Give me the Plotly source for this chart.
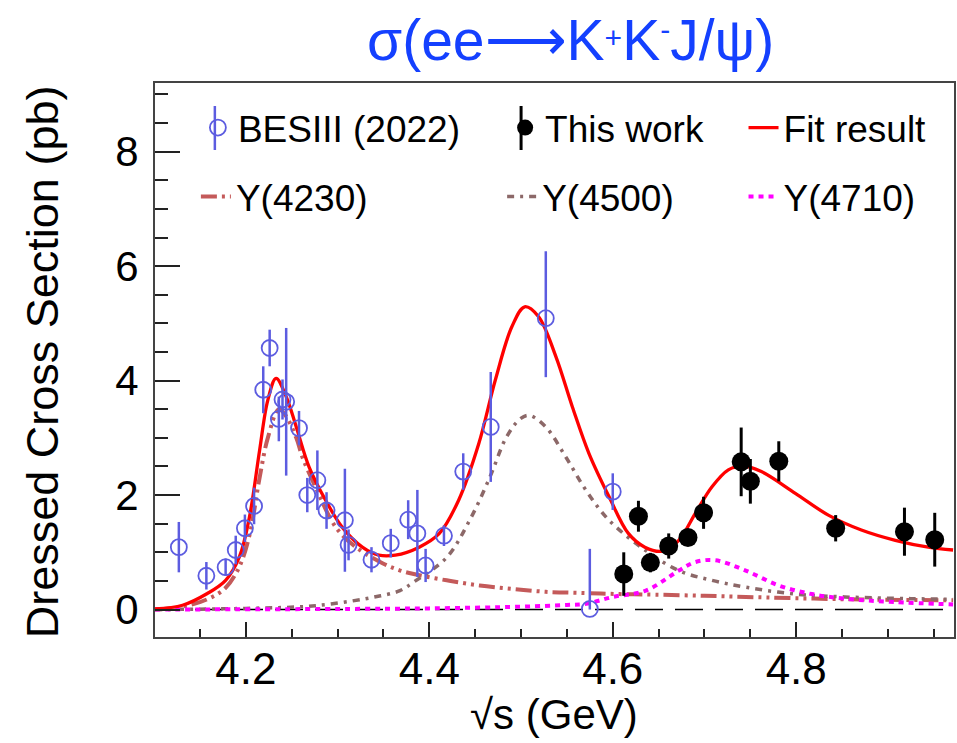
import plotly.graph_objects as go

# ---- BESIII (2022) measurements ----
besiii_E = [4.127, 4.157, 4.178, 4.189, 4.199, 4.209, 4.219, 4.226, 4.236, 4.240,
            4.244, 4.258, 4.267, 4.278, 4.288, 4.308, 4.312, 4.337, 4.358, 4.377,
            4.387, 4.396, 4.416, 4.437, 4.467, 4.527, 4.575, 4.600]
besiii_xs = [1.09, 0.59, 0.74, 1.04, 1.42, 1.81, 3.84, 4.57, 3.33, 3.67,
             3.63, 3.17, 2.00, 2.26, 1.73, 1.56, 1.13, 0.87, 1.16, 1.57,
             1.33, 0.77, 1.29, 2.41, 3.19, 5.09, 0.01, 2.06]
besiii_err_up = [0.44, 0.24, 0.15, 0.25, 0.24, 0.32, 0.41, 0.32, 0.39, 0.35,
                 1.29, 0.30, 0.30, 0.52, 0.32, 0.90, 0.27, 0.22, 0.25, 0.34,
                 0.76, 0.29, 0.18, 0.32, 0.96, 1.17, 1.05, 0.32]
besiii_err_dn = [0.44, 0.24, 0.15, 0.25, 0.24, 0.32, 0.41, 0.32, 0.39, 0.35,
                 1.29, 0.30, 0.30, 0.52, 0.32, 0.90, 0.27, 0.22, 0.25, 0.34,
                 0.76, 0.29, 0.18, 0.32, 0.96, 1.03, 0.01, 0.32]

# ---- This work ----
work_E = [4.612, 4.628, 4.641, 4.661, 4.682, 4.699, 4.740, 4.750, 4.781, 4.843, 4.918, 4.951]
work_xs = [0.62, 1.63, 0.82, 1.11, 1.26, 1.69, 2.58, 2.24, 2.59, 1.42, 1.36, 1.22]
work_err = [0.38, 0.27, 0.17, 0.22, 0.10, 0.28, 0.60, 0.39, 0.35, 0.23, 0.42, 0.47]

# ---- Fit result and its components ----
fit_E = [4.101, 4.131, 4.158, 4.178, 4.193, 4.204, 4.215, 4.224, 4.233, 4.244,
         4.255, 4.269, 4.287, 4.305, 4.327, 4.345, 4.363, 4.389, 4.411, 4.432,
         4.454, 4.472, 4.490, 4.504, 4.519, 4.538, 4.556, 4.574, 4.596, 4.617,
         4.635, 4.654, 4.672, 4.690, 4.708, 4.726, 4.742, 4.762, 4.799, 4.835,
         4.871, 4.908, 4.944, 4.971]
fit_xs = [0.01, 0.075, 0.28, 0.51, 0.92, 1.62, 2.78, 3.66, 4.04, 3.72,
          3.19, 2.49, 1.91, 1.44, 1.09, 0.95, 0.95, 1.09, 1.33, 1.91,
          2.90, 4.01, 4.94, 5.29, 5.12, 4.42, 3.54, 2.73, 1.97, 1.33,
          1.09, 1.02, 1.21, 1.68, 2.14, 2.44, 2.51, 2.41, 2.03, 1.65,
          1.39, 1.21, 1.09, 1.04]

y4230_E = [4.101, 4.131, 4.158, 4.178, 4.193, 4.204, 4.215, 4.224, 4.236, 4.243,
           4.255, 4.262, 4.276, 4.298, 4.320, 4.349, 4.367, 4.383, 4.419, 4.455,
           4.491, 4.527, 4.564, 4.607, 4.646, 4.700, 4.745, 4.853, 4.971]
y4230_xs = [0.0, 0.05, 0.18, 0.38, 0.75, 1.30, 2.30, 3.00, 3.50, 3.40,
            3.00, 2.65, 2.14, 1.44, 1.09, 0.81, 0.69, 0.62, 0.51, 0.42,
            0.36, 0.31, 0.29, 0.27, 0.26, 0.24, 0.22, 0.18, 0.16]

y4500_E = [4.101, 4.200, 4.278, 4.347, 4.368, 4.383, 4.419, 4.444, 4.466, 4.484,
           4.499, 4.509, 4.527, 4.549, 4.571, 4.596, 4.636, 4.672, 4.708, 4.745,
           4.799, 4.853, 4.925, 4.971]
y4500_xs = [0.0, 0.02, 0.07, 0.24, 0.33, 0.48, 0.91, 1.56, 2.31, 3.01,
            3.33, 3.39, 3.19, 2.66, 2.08, 1.56, 1.03, 0.68, 0.51, 0.39,
            0.27, 0.22, 0.19, 0.18]

y4710_E = [4.101, 4.300, 4.400, 4.500, 4.550, 4.571, 4.600, 4.636, 4.672, 4.690,
           4.712, 4.745, 4.781, 4.817, 4.853, 4.907, 4.971]
y4710_xs = [0.0, 0.01, 0.02, 0.05, 0.08, 0.10, 0.22, 0.33, 0.68, 0.83,
            0.86, 0.68, 0.42, 0.27, 0.19, 0.13, 0.09]

x_ticks = [4.2, 4.4, 4.6, 4.8]
y_ticks = [0, 2, 4, 6, 8]

FONT = "Liberation Sans, Arial, Helvetica, sans-serif"
BLUE = "#5c5ce0"
LEG_FONT = dict(family=FONT, size=37, color="black")

fig = go.Figure()

fig.add_trace(go.Scatter(
    x=y4230_E, y=y4230_xs, mode="lines", name="Y(4230)", line_shape="spline",
    line=dict(color="#c45a5a", width=4, dash="16px,5px,3px,5px,3px,5px"),
    legend="legend4"))
fig.add_trace(go.Scatter(
    x=y4500_E, y=y4500_xs, mode="lines", name="Y(4500)", line_shape="spline",
    line=dict(color="#8c6868", width=3.5, dash="7px,6px,3px,6px"),
    legend="legend5"))
fig.add_trace(go.Scatter(
    x=y4710_E, y=y4710_xs, mode="lines", name="Y(4710)", line_shape="spline",
    line=dict(color="#ff00ff", width=4, dash="5px,5px"),
    legend="legend6"))
fig.add_trace(go.Scatter(
    x=fit_E, y=fit_xs, mode="lines", name="Fit result", line_shape="spline",
    line=dict(color="#ff0000", width=3.3),
    legend="legend3"))

fig.add_trace(go.Scatter(
    x=besiii_E, y=besiii_xs, mode="markers", name="BESIII (2022)",
    marker=dict(symbol="circle-open", size=16, color=BLUE, line=dict(width=1.8, color=BLUE)),
    error_y=dict(type="data", symmetric=False, array=besiii_err_up, arrayminus=besiii_err_dn,
                 color=BLUE, thickness=2.5, width=0),
    legend="legend"))
fig.add_trace(go.Scatter(
    x=work_E, y=work_xs, mode="markers", name="This work",
    marker=dict(symbol="circle", size=19, color="black"),
    error_y=dict(type="data", array=work_err, color="black", thickness=3, width=0),
    legend="legend2"))

L, R, T, B = 155, 1, 83, 106
W, H = 957, 743
pw, ph = W - L - R, H - T - B


def px_x(px):
    return (px - L) / pw


def px_y(py):
    return (H - B - py) / ph


def legend_at(xpx, ypx):
    return dict(x=px_x(xpx), y=px_y(ypx), xanchor="left", yanchor="middle",
                bgcolor="rgba(0,0,0,0)", font=LEG_FONT, borderwidth=0,
                orientation="h", itemwidth=30)


# dashed zero reference line
fig.add_shape(type="line", xref="paper", x0=0, x1=1, yref="y", y0=0, y1=0,
              line=dict(color="black", width=1.5, dash="28px,12px"), layer="below")

# vertical error-bar strokes through the legend markers
for xm, col, lw in [(215, BLUE, 2.5), (522, "black", 3)]:
    fig.add_shape(type="line", xref="paper", yref="paper",
                  x0=px_x(xm), x1=px_x(xm), y0=px_y(106), y1=px_y(150),
                  line=dict(color=col, width=lw))

title_txt = ("σ(ee⟶K<span style=\"font-size:30px;baseline-shift:12px\">+</span>"
             "K<span style=\"font-size:30px;baseline-shift:20px\">-</span>J/ψ)")

fig.update_layout(
    width=W, height=H,
    margin=dict(l=L, r=R, t=T, b=B),
    paper_bgcolor="white", plot_bgcolor="white",
    font=dict(family=FONT, color="black"),
    showlegend=True,
    legend=legend_at(198, 128),
    legend2=legend_at(506, 128),
    legend3=legend_at(745, 128),
    legend4=legend_at(196, 197),
    legend5=legend_at(503, 197),
    legend6=legend_at(745, 197),
    xaxis=dict(
        range=[4.101, 4.972], tickvals=x_ticks, ticktext=[f"{v:.1f}" for v in x_ticks],
        ticks="inside", ticklen=15, tickwidth=1.5, tickcolor="#222",
        minor=dict(dtick=0.05, tick0=4.1, ticks="inside", ticklen=8, tickwidth=1.5, tickcolor="#222"),
        showline=True, linecolor="#444", linewidth=2, mirror=True,
        showgrid=False, zeroline=False,
        tickfont=dict(family=FONT, size=44), ticklabelstandoff=-8),
    yaxis=dict(
        range=[-0.48, 9.2], tickvals=y_ticks, ticktext=[str(v) for v in y_ticks],
        ticks="inside", ticklen=25, tickwidth=1.5, tickcolor="#222",
        minor=dict(dtick=0.5, tick0=0, ticks="inside", ticklen=13, tickwidth=1.5, tickcolor="#222"),
        showline=True, linecolor="#444", linewidth=2, mirror=True,
        showgrid=False, zeroline=False,
        tickfont=dict(family=FONT, size=42), ticklabelstandoff=6),
    annotations=[
        dict(text=title_txt,
             xref="paper", yref="paper",
             x=px_x(572), y=px_y(40), xanchor="center", yanchor="middle", showarrow=False,
             font=dict(family=FONT, size=57, color="#1440ff")),
        dict(text="Dressed Cross Section (pb)", xref="paper", yref="paper",
             x=px_x(42), y=px_y(362), xanchor="center", yanchor="middle", showarrow=False,
             textangle=-90, font=dict(family=FONT, size=45, color="black")),
        dict(text="√s (GeV)", xref="paper", yref="paper",
             x=px_x(555), y=px_y(714), xanchor="center", yanchor="middle", showarrow=False,
             font=dict(family=FONT, size=42, color="black")),
    ],
)

fig.write_html("out.html")
